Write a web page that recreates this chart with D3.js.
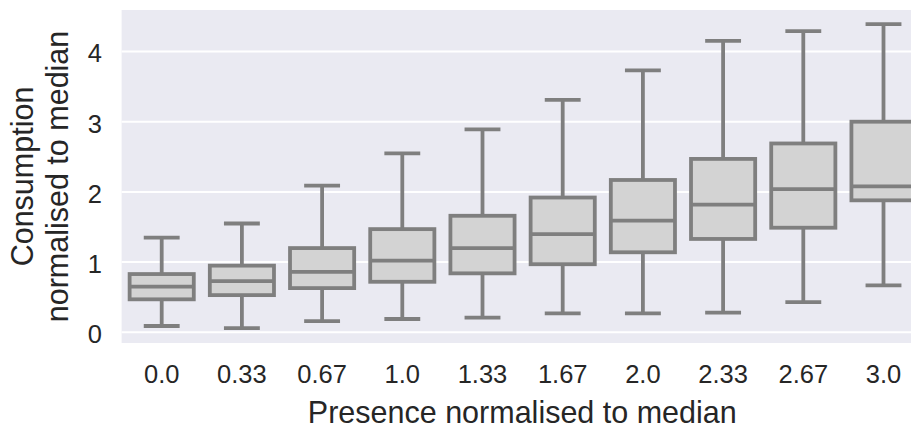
<!DOCTYPE html>
<html>
<head>
<meta charset="utf-8">
<script src="https://cdn.jsdelivr.net/npm/d3@7"></script>
<style>
  html, body { margin: 0; padding: 0; background: #ffffff; }
  svg { display: block; font-family: "Liberation Sans", Arial, sans-serif; }
</style>
</head>
<body>
<svg id="chart" width="911" height="428"></svg>
<script>
// ---- data ----
const categories = ["0.0", "0.33", "0.67", "1.0", "1.33", "1.67", "2.0", "2.33", "2.67", "3.0"];
const whiskerLow  = [0.09, 0.06, 0.16, 0.19, 0.21, 0.27, 0.27, 0.28, 0.43, 0.67];
const q1          = [0.47, 0.53, 0.63, 0.72, 0.84, 0.97, 1.14, 1.33, 1.49, 1.88];
const median      = [0.65, 0.73, 0.86, 1.02, 1.20, 1.40, 1.59, 1.82, 2.04, 2.08];
const q3          = [0.83, 0.95, 1.20, 1.47, 1.66, 1.92, 2.17, 2.47, 2.69, 3.00];
const whiskerHigh = [1.35, 1.55, 2.09, 2.55, 2.89, 3.31, 3.73, 4.15, 4.29, 4.39];
const yTicks = [0, 1, 2, 3, 4];
const xLabel = "Presence normalised to median";
const yLabelLines = ["Consumption", "normalised to median"];

// ---- layout ----
const svg = d3.select("#chart");
const plotLeft = 121.6, plotTop = 10, plotBottom = 343;
const bandW = 80.2;
const plotRight = plotLeft + bandW * categories.length;

const x = d3.scaleBand().domain(categories).range([plotLeft, plotRight]).padding(0);
const y = d3.scaleLinear().domain([-0.152, 4.591]).range([plotBottom, plotTop]);

const textColor = "#262626";
const boxFill = "#d3d3d3";
const boxStroke = "#7f7f7f";
const lw = 3.8;

// background
svg.append("rect")
  .attr("x", plotLeft).attr("y", plotTop)
  .attr("width", plotRight - plotLeft).attr("height", plotBottom - plotTop)
  .attr("fill", "#eaeaf2");

// gridlines
svg.append("g").selectAll("line").data(yTicks).join("line")
  .attr("x1", plotLeft).attr("x2", plotRight)
  .attr("y1", d => y(d)).attr("y2", d => y(d))
  .attr("stroke", "#ffffff").attr("stroke-width", 2);

// y tick labels
svg.append("g").selectAll("text").data(yTicks).join("text")
  .attr("x", 102).attr("y", d => y(d) + 2)
  .attr("text-anchor", "end").attr("dominant-baseline", "central")
  .attr("font-size", 25.5).attr("fill", textColor)
  .text(d => d);

// x tick labels
svg.append("g").selectAll("text").data(categories).join("text")
  .attr("x", d => x(d) + x.bandwidth() / 2).attr("y", 383)
  .attr("text-anchor", "middle")
  .attr("font-size", 25.5).attr("fill", textColor)
  .text(d => d);

// axis labels
svg.append("text")
  .attr("x", (plotLeft + 911) / 2 + 6).attr("y", 423)
  .attr("text-anchor", "middle").attr("font-size", 30.5).attr("fill", textColor)
  .text(xLabel);

const yl = svg.append("text")
  .attr("transform", `translate(0,${(plotTop + plotBottom) / 2}) rotate(-90)`)
  .attr("text-anchor", "middle").attr("font-size", 30.5).attr("fill", textColor);
yl.append("tspan").attr("x", 0).attr("y", 33).text(yLabelLines[0]);
yl.append("tspan").attr("x", 0).attr("y", 68).text(yLabelLines[1]);

// boxes
const boxW = x.bandwidth() * 0.8;
const capW = boxW * 0.5;
const data = categories.map((c, i) => ({
  c, lo: whiskerLow[i], q1: q1[i], med: median[i], q3: q3[i], hi: whiskerHigh[i]
}));

const g = svg.append("g");
const bx = g.selectAll("g.box").data(data).join("g").attr("class", "box")
  .attr("transform", d => `translate(${x(d.c) + x.bandwidth() / 2},0)`);

// whiskers
bx.append("line").attr("x1", 0).attr("x2", 0)
  .attr("y1", d => y(d.q3)).attr("y2", d => y(d.hi))
  .attr("stroke", boxStroke).attr("stroke-width", lw);
bx.append("line").attr("x1", 0).attr("x2", 0)
  .attr("y1", d => y(d.q1)).attr("y2", d => y(d.lo))
  .attr("stroke", boxStroke).attr("stroke-width", lw);
// caps
bx.append("line").attr("x1", -capW / 2).attr("x2", capW / 2)
  .attr("y1", d => y(d.hi)).attr("y2", d => y(d.hi))
  .attr("stroke", boxStroke).attr("stroke-width", lw).attr("stroke-linecap", "square");
bx.append("line").attr("x1", -capW / 2).attr("x2", capW / 2)
  .attr("y1", d => y(d.lo)).attr("y2", d => y(d.lo))
  .attr("stroke", boxStroke).attr("stroke-width", lw).attr("stroke-linecap", "square");
// box
bx.append("rect")
  .attr("x", -boxW / 2).attr("width", boxW)
  .attr("y", d => y(d.q3)).attr("height", d => y(d.q1) - y(d.q3))
  .attr("fill", boxFill).attr("stroke", boxStroke).attr("stroke-width", lw);
// median
bx.append("line").attr("x1", -boxW / 2).attr("x2", boxW / 2)
  .attr("y1", d => y(d.med)).attr("y2", d => y(d.med))
  .attr("stroke", boxStroke).attr("stroke-width", lw);
</script>
</body>
</html>
